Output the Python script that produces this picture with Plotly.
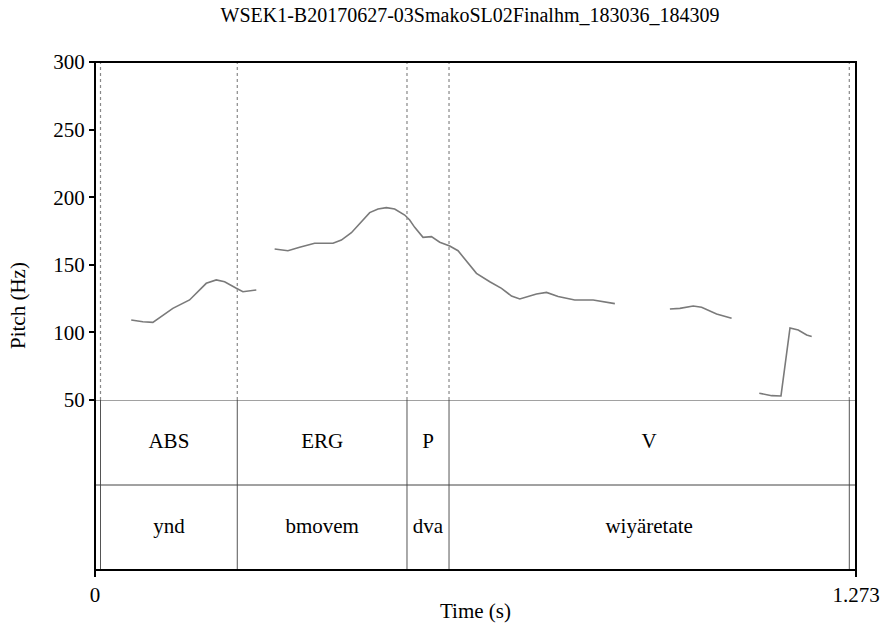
import plotly.graph_objects as go

# ---------------- data ----------------
title_text = "WSEK1-B20170627-03SmakoSL02Finalhm_183036_184309"
t_max = 1.273

# pitch contour segments (time s, pitch Hz)
seg1_t = [0.0606, 0.0800, 0.0968, 0.1108, 0.1302, 0.1582, 0.1861, 0.2029, 0.2168, 0.2364, 0.2474, 0.2698]
seg1_f = [109.2, 107.9, 107.4, 111.6, 117.8, 124.0, 136.3, 138.8, 137.5, 132.6, 130.1, 131.4]

seg2_t = [0.3005, 0.3227, 0.3423, 0.3674, 0.3981, 0.4121, 0.4289, 0.4428, 0.4595, 0.4734,
          0.4874, 0.5013, 0.5181, 0.5264, 0.5348, 0.5487, 0.5628, 0.5767, 0.5934, 0.6073,
          0.6214, 0.6381, 0.6604, 0.6800, 0.6967, 0.7106, 0.7385, 0.7553, 0.7747, 0.8026,
          0.8333, 0.8529, 0.8696]
seg2_f = [161.7, 160.4, 163.0, 165.9, 165.9, 168.3, 173.7, 180.7, 188.6, 191.3,
          192.3, 191.3, 186.8, 183.1, 177.7, 170.3, 170.8, 166.7, 163.9, 160.4,
          152.5, 143.7, 137.5, 132.6, 126.9, 124.7, 128.4, 129.6, 126.5, 124.0,
          124.0, 122.3, 121.3]

seg3_t = [0.9617, 0.9784, 1.0007, 1.0147, 1.0398, 1.0649]
seg3_f = [117.3, 117.8, 119.5, 118.6, 113.6, 110.4]

seg4_t = [1.1112, 1.1319, 1.1475, 1.1626, 1.1764, 1.1905, 1.1989]
seg4_f = [55.0, 53.2, 53.0, 103.3, 101.8, 98.1, 96.9]

# annotation tiers (same boundaries for both tiers)
boundaries = [0.0092, 0.2380, 0.5219, 0.5922, 1.2618]
tier1_labels = ["ABS", "ERG", "P", "V"]
tier2_labels = ["ynd", "bmovem", "dva", "wiyäretate"]

y_ticks = [50, 100, 150, 200, 250, 300]
x_tickvals = [0, 1.273]
x_ticktext = ["0", "1.273"]

# ---------------- figure ----------------
FONT = "Times New Roman"
fig = go.Figure()

# pitch contour
px, py = [], []
for ts, fs in [(seg1_t, seg1_f), (seg2_t, seg2_f), (seg3_t, seg3_f), (seg4_t, seg4_f)]:
    px += ts + [None]
    py += fs + [None]
fig.add_trace(go.Scatter(x=px, y=py, mode="lines", xaxis="x", yaxis="y",
                         line=dict(color="#7a7a7a", width=1.6), hoverinfo="skip",
                         connectgaps=False, showlegend=False))

# dotted boundary lines in pitch area
dx, dy = [], []
for b in boundaries:
    dx += [b, b, None]
    dy += [y_ticks[0], y_ticks[-1], None]
fig.add_trace(go.Scatter(x=dx, y=dy, mode="lines", xaxis="x", yaxis="y",
                         line=dict(color="#888888", width=1.2, dash="dot"),
                         hoverinfo="skip", showlegend=False))

# solid boundary lines in tier area
sx, sy = [], []
for b in boundaries:
    sx += [b, b, None]
    sy += [0, 2, None]
fig.add_trace(go.Scatter(x=sx, y=sy, mode="lines", xaxis="x", yaxis="y2",
                         line=dict(color="#555555", width=1),
                         hoverinfo="skip", showlegend=False))

# tier labels
mids = [(boundaries[i] + boundaries[i + 1]) / 2 for i in range(len(boundaries) - 1)]
fig.add_trace(go.Scatter(x=mids, y=[1.5] * len(mids), mode="text", text=tier1_labels,
                         xaxis="x", yaxis="y2", textfont=dict(family=FONT, size=21, color="black"),
                         hoverinfo="skip", showlegend=False))
fig.add_trace(go.Scatter(x=mids, y=[0.5] * len(mids), mode="text", text=tier2_labels,
                         xaxis="x", yaxis="y2", textfont=dict(family=FONT, size=21, color="black"),
                         hoverinfo="skip", showlegend=False))

tier_frac = 170 / 508

shapes = [
    # tier separators
    dict(type="line", xref="paper", x0=0, x1=1, yref="y2", y0=2, y1=2,
         line=dict(color="#444444", width=1)),
    dict(type="line", xref="paper", x0=0, x1=1, yref="y2", y0=1, y1=1,
         line=dict(color="#444444", width=1)),
    # frame
    dict(type="rect", xref="paper", yref="paper", x0=0, x1=1, y0=0, y1=1,
         line=dict(color="black", width=2)),
]

fig.update_layout(
    width=883, height=631, autosize=False,
    margin=dict(l=95, r=27, t=62, b=61),
    paper_bgcolor="white", plot_bgcolor="white",
    font=dict(family=FONT, size=21, color="black"),
    title=dict(text=title_text, x=470 / 883, xanchor="center", xref="container",
               y=1 - 15 / 631, yanchor="middle", yref="container",
               font=dict(family=FONT, size=20, color="black")),
    xaxis=dict(range=[0, t_max], anchor="y2", tickvals=x_tickvals, ticktext=x_ticktext,
               ticks="outside", ticklen=6, tickwidth=2, tickcolor="black",
               showgrid=False, zeroline=False, showline=False, automargin=False,
               tickfont=dict(family=FONT, size=21)),
    yaxis=dict(range=[y_ticks[0], y_ticks[-1]], domain=[tier_frac, 1], anchor="x",
               tickvals=y_ticks, ticks="outside", ticklen=5, tickwidth=2, tickcolor="black",
               showgrid=False, zeroline=False, showline=False, automargin=False,
               tickfont=dict(family=FONT, size=21)),
    yaxis2=dict(range=[0, 2], domain=[0, tier_frac], anchor="x", automargin=False,
                showticklabels=False, ticks="", showgrid=False, zeroline=False, showline=False),
    shapes=shapes,
    annotations=[
        dict(text="Pitch (Hz)", xref="paper", yref="paper",
             x=(18 - 95) / 761, y=(570 - 306) / 508, textangle=-90,
             showarrow=False, xanchor="center", yanchor="middle",
             font=dict(family=FONT, size=21)),
        dict(text="Time (s)", xref="paper", yref="paper",
             x=0.5, y=(570 - 611) / 508,
             showarrow=False, xanchor="center", yanchor="middle",
             font=dict(family=FONT, size=21)),
    ],
    showlegend=False,
)

fig.write_html("out.html")
